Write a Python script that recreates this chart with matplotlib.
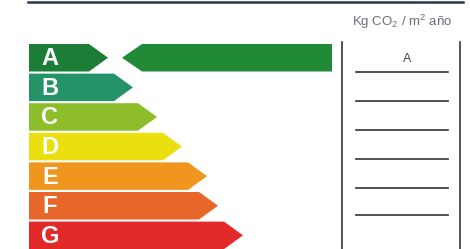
import matplotlib
matplotlib.use("Agg")
import matplotlib.pyplot as plt
from matplotlib.patches import Polygon

plt.rcParams["mathtext.fontset"] = "custom"
plt.rcParams["mathtext.rm"] = "Liberation Sans"

# energy classes and the length of each arrow (tip position)
classes = ["A", "B", "C", "D", "E", "F", "G"]
tips = [108, 133, 157, 182, 207, 218, 243]
colors = ["#1c7d36", "#24936a", "#8dbd2a", "#ecdf10", "#f0961e", "#e9662a", "#e22a28"]
rating = "A"
unit_label = r"Kg CO$_\mathrm{2}$ / m$^\mathrm{2}$ año"

fig = plt.figure(figsize=(4.7, 2.49), dpi=100)
ax = fig.add_axes([0, 0, 1, 1])
ax.set_xlim(0, 470)
ax.set_ylim(249, 0)
ax.axis("off")

# top rule
ax.plot([28, 463], [1.5, 1.5], color="#2c3550", lw=1.8)

x0 = 29
top0 = 44
step = 29.6
h = 27.5
for i, (c, tip, col) in enumerate(zip(classes, tips, colors)):
    y = top0 + i * step
    body = tip - 19
    pts = [(x0, y), (body, y), (tip, y + h / 2), (body, y + h), (x0, y + h)]
    ax.add_patch(Polygon(pts, closed=True, facecolor=col, edgecolor="none"))
    ax.text(x0 + 21, y + h / 2 + 1, c, color="white", fontsize=17, fontweight="bold",
            family="Liberation Sans", ha="center", va="center")

# rating pointer for the current class
ri = classes.index(rating)
y = top0 + ri * step
ax.add_patch(Polygon([(122, y + h / 2), (142, y), (332, y), (332, y + h), (142, y + h)],
                     closed=True, facecolor="#218a37", edgecolor="none"))

# right column
ax.text(402, 22, unit_label, color="#6a6f7a", fontsize=9.5, ha="center", va="center",
        family="Liberation Sans")
for xv in [342, 460]:
    ax.plot([xv, xv], [42, 249], color="#333333", lw=1.2)
ax.text(407, 59, rating, color="#444444", fontsize=9, ha="center", va="center",
        family="Liberation Sans")
for yv in [72, 101, 130, 159, 188, 215]:
    ax.plot([356, 448], [yv, yv], color="#333333", lw=1.2)

fig.savefig("out.png", dpi=100)
